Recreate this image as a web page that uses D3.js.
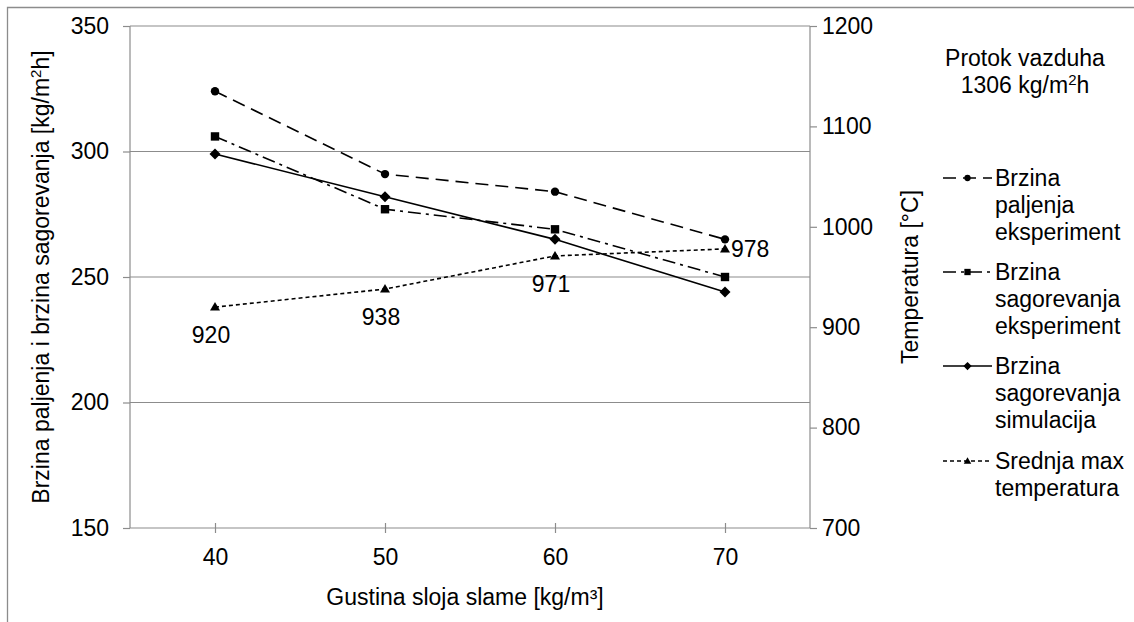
<!DOCTYPE html>
<html><head><meta charset="utf-8">
<script src="https://cdn.jsdelivr.net/npm/d3@7"></script>
<style>body{margin:0;background:#fff}svg{display:block;font-family:"Liberation Sans",Arial,sans-serif}</style>
</head><body>
<svg id="c" width="1134" height="622"></svg>
<script>
const xValues = [40, 50, 60, 70];
const paljenjaEksp = [324, 291, 284, 265];
const sagorevanjaEksp = [306, 277, 269, 250];
const sagorevanjaSim = [299, 282, 265, 244];
const srednjaMaxTemp = [920, 938, 971, 978];
const leftTicks = [150, 200, 250, 300, 350];
const rightTicks = [700, 800, 900, 1000, 1100, 1200];
const xTicks = [40, 50, 60, 70];
const legendNames = [["Brzina","paljenja","eksperiment"],["Brzina","sagorevanja","eksperiment"],["Brzina","sagorevanja","simulacija"],["Srednja max","temperatura"]];

const svg = d3.select("#c");
const L = 130, R = 810, T = 26, B = 528;
const x = d3.scaleLinear().domain([35, 75]).range([L, R]);
const yL = d3.scaleLinear().domain([150, 350]).range([B, T]);
const yR = d3.scaleLinear().domain([700, 1200]).range([B, T]);
const grey = "#8c8c8c";
const FS = 23;

// outer border
svg.append("path").attr("d", "M7.5,622 V7.5 H1134").attr("fill","none").attr("stroke", grey).attr("stroke-width",1.3);

// gridlines
svg.append("g").selectAll("line").data(leftTicks.slice(1)).join("line")
  .attr("x1", L).attr("x2", R).attr("y1", d=>yL(d)).attr("y2", d=>yL(d))
  .attr("stroke", grey).attr("stroke-width", 1.2);

// left axis
const gl = svg.append("g").attr("transform",`translate(${L},0)`).call(d3.axisLeft(yL).tickValues(leftTicks).tickSize(7).tickPadding(14));
// right axis
const gr = svg.append("g").attr("transform",`translate(${R},0)`).call(d3.axisRight(yR).tickValues(rightTicks).tickFormat(d3.format("d")).tickSize(7).tickPadding(5));
// bottom axis
const gb = svg.append("g").attr("transform",`translate(0,${B})`).call(d3.axisBottom(x).tickValues(xTicks).tickSize(5).tickPadding(16));
gb.selectAll(".tick line").attr("y1", -5);
[gl, gr, gb].forEach(g => {
  g.select(".domain").attr("stroke", grey).attr("stroke-width", 1.2);
  g.selectAll(".tick line").attr("stroke", grey).attr("stroke-width", 1.2);
  g.selectAll("text").attr("font-size", FS).attr("fill", "#000").attr("font-family", "Liberation Sans, Arial, sans-serif");
});
gb.select(".domain").attr("d", `M${L},0H${R}`);
gl.select(".domain").attr("d", `M0,${B}V${T}`);
gr.select(".domain").attr("d", `M0,${B}V${T}`);

// axis titles
svg.append("text").attr("transform", `translate(41,${(T+B)/2}) rotate(-90)`).attr("text-anchor","middle").attr("dy","0.35em")
  .attr("font-size", FS).html("Brzina paljenja i brzina sagorevanja [kg/m<tspan dy='-8' font-size='15'>2</tspan><tspan dy='8'>h]</tspan>");
svg.append("text").attr("transform", `translate(910,${(T+B)/2}) rotate(-90)`).attr("text-anchor","middle").attr("dy","0.35em")
  .attr("font-size", FS).text("Temperatura [°C]");
svg.append("text").attr("x", 465).attr("y", 597).attr("text-anchor","middle").attr("dy","0.35em")
  .attr("font-size", FS).text("Gustina sloja slame [kg/m³]");

// series
const series = [
  {vals: paljenjaEksp, y: yL, dash: "13,7", marker: "circle"},
  {vals: sagorevanjaEksp, y: yL, dash: "13,5,3,5", marker: "square"},
  {vals: sagorevanjaSim, y: yL, dash: null, marker: "diamond"},
  {vals: srednjaMaxTemp, y: yR, dash: "4,3", marker: "triangle"}
];
function drawMarker(g, type, cx, cy, s) {
  s = s || 1;
  if (type === "circle") g.append("circle").attr("cx",cx).attr("cy",cy).attr("r",4.2*s);
  else if (type === "square") g.append("rect").attr("x",cx-4.2*s).attr("y",cy-4.2*s).attr("width",8.4*s).attr("height",8.4*s);
  else if (type === "diamond") g.append("path").attr("d",`M${cx},${cy-5.5*s}L${cx+5.5*s},${cy}L${cx},${cy+5.5*s}L${cx-5.5*s},${cy}Z`);
  else g.append("path").attr("d",`M${cx},${cy-5*s}L${cx+5*s},${cy+3.5*s}L${cx-5*s},${cy+3.5*s}Z`);
}
series.forEach(s => {
  const line = d3.line().x((d,i)=>x(xValues[i])).y(d=>s.y(d));
  svg.append("path").datum(s.vals).attr("d", line).attr("fill","none").attr("stroke","#000").attr("stroke-width",1.6)
    .attr("stroke-dasharray", s.dash);
  const mg = svg.append("g").attr("fill","#000");
  s.vals.forEach((v,i)=> drawMarker(mg, s.marker, x(xValues[i]), s.y(v)));
});

// data labels for temperature
srednjaMaxTemp.forEach((v,i)=>{
  const last = i === srednjaMaxTemp.length-1;
  svg.append("text").attr("font-size", FS).attr("dy","0.35em")
    .attr("x", last ? x(xValues[i]) + 6 : x(xValues[i]) - 4)
    .attr("y", last ? yR(v) : yR(v) + 28)
    .attr("text-anchor", last ? "start" : "middle")
    .text(v);
});

// legend title
svg.append("text").attr("x", 1025).attr("y", 58).attr("text-anchor","middle").attr("dy","0.35em").attr("font-size", FS).text("Protok vazduha");
svg.append("text").attr("x", 1025).attr("y", 85).attr("text-anchor","middle").attr("dy","0.35em").attr("font-size", FS)
  .html("1306 kg/m<tspan dy='-8' font-size='15'>2</tspan><tspan dy='8'>h</tspan>");

// legend
const legY = [178, 272, 366, 461];
series.forEach((s,k)=>{
  const g = svg.append("g");
  g.append("line").attr("x1",943).attr("x2",992).attr("y1",legY[k]).attr("y2",legY[k]).attr("stroke","#000").attr("stroke-width",1.6).attr("stroke-dasharray", s.dash);
  const mg = g.append("g").attr("fill","#000");
  drawMarker(mg, s.marker, 967.5, legY[k], 0.75);
  legendNames[k].forEach((t,j)=>{
    g.append("text").attr("x",995).attr("y",legY[k]+27*j).attr("dy","0.35em").attr("font-size",FS).text(t);
  });
});
</script>
</body></html>
